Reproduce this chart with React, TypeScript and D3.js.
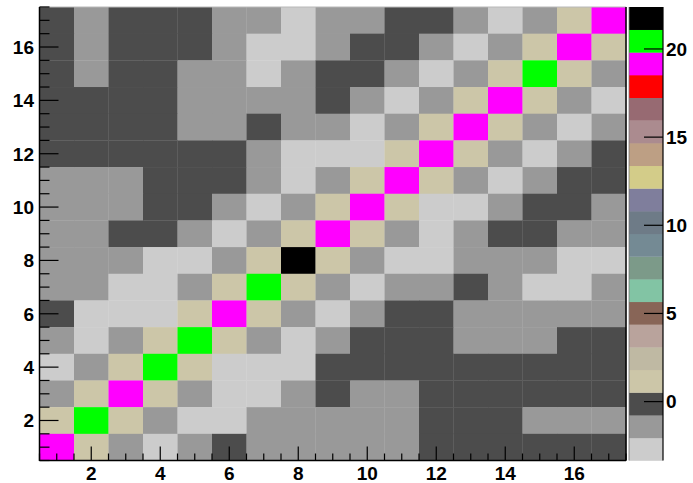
import * as d3 from "d3";

// bins on both axes
const xBins = d3.range(1, 18);
const yBinsTopDown = d3.range(17, 0, -1);

// cell contents, one row per y bin, from y = 17 (top) down to y = 1
const zRows = [
  [-0.1, -1.4, -0.1, -0.1, -0.1, -1.4, -1.4, -2.7, -1.4, -1.4, -0.1, -0.1, -1.4, -2.7, -1.4, 1.1, 19.2],
  [-0.1, -1.4, -0.1, -0.1, -0.1, -1.4, -2.7, -2.7, -1.4, -0.1, -0.1, -1.4, -2.7, -1.4, 1.1, 19.2, 1.1],
  [-0.1, -1.4, -0.1, -0.1, -1.4, -1.4, -2.7, -1.4, -0.1, -0.1, -1.4, -2.7, -1.4, 1.1, 20.5, 1.1, -1.4],
  [-0.1, -0.1, -0.1, -0.1, -1.4, -1.4, -1.4, -1.4, -0.1, -1.4, -2.7, -1.4, 1.1, 19.2, 1.1, -1.4, -2.7],
  [-0.1, -0.1, -0.1, -0.1, -1.4, -1.4, -0.1, -1.4, -1.4, -2.7, -1.4, 1.1, 19.2, 1.1, -1.4, -2.7, -1.4],
  [-0.1, -0.1, -0.1, -0.1, -0.1, -0.1, -1.4, -2.7, -2.7, -2.7, 1.1, 19.2, 1.1, -1.4, -2.7, -1.4, -0.1],
  [-1.4, -1.4, -1.4, -0.1, -0.1, -0.1, -1.4, -2.7, -1.4, 1.1, 19.2, 1.1, -1.4, -2.7, -1.4, -0.1, -0.1],
  [-1.4, -1.4, -1.4, -0.1, -0.1, -1.4, -2.7, -1.4, 1.1, 19.2, 1.1, -2.7, -2.7, -1.4, -0.1, -0.1, -1.4],
  [-1.4, -1.4, -0.1, -0.1, -1.4, -2.7, -1.4, 1.1, 19.2, 1.1, -1.4, -2.7, -1.4, -0.1, -0.1, -1.4, -1.4],
  [-1.4, -1.4, -1.4, -2.7, -2.7, -1.4, 1.1, 21.8, 1.1, -1.4, -2.7, -2.7, -1.4, -1.4, -1.4, -2.7, -2.7],
  [-1.4, -1.4, -2.7, -2.7, -1.4, 1.1, 20.5, 1.1, -1.4, -2.7, -1.4, -1.4, -0.1, -1.4, -2.7, -2.7, -1.4],
  [-0.1, -2.7, -2.7, -2.7, 1.1, 19.2, 1.1, -1.4, -2.7, -1.4, -0.1, -0.1, -1.4, -1.4, -1.4, -1.4, -1.4],
  [-1.4, -2.7, -1.4, 1.1, 20.5, 1.1, -1.4, -2.7, -1.4, -0.1, -0.1, -0.1, -1.4, -1.4, -1.4, -0.1, -0.1],
  [-2.7, -1.4, 1.1, 20.5, 1.1, -2.7, -2.7, -2.7, -0.1, -0.1, -0.1, -0.1, -0.1, -0.1, -0.1, -0.1, -0.1],
  [-1.4, 1.1, 19.2, 1.1, -1.4, -2.7, -2.7, -1.4, -0.1, -1.4, -1.4, -0.1, -0.1, -0.1, -0.1, -0.1, -0.1],
  [1.1, 20.5, 1.1, -1.4, -2.7, -2.7, -1.4, -1.4, -1.4, -1.4, -1.4, -0.1, -0.1, -0.1, -1.4, -1.4, -1.4],
  [19.2, 1.1, -1.4, -2.7, -1.4, -0.1, -1.4, -1.4, -1.4, -1.4, -1.4, -0.1, -0.1, -0.1, -0.1, -0.1, -0.1],
];

// z range of the palette
const zRange = [-3.34, 22.38];

// palette, bottom to top
const palette = [
  "#cccccc", "#999999", "#4c4c4c", "#ccc6a8", "#bfb9a3", "#b9a39c", "#886557",
  "#82c4a4", "#7c9a89", "#748a94", "#6e7b87", "#7f7e9c", "#d3cc89", "#bd9f84",
  "#ab8b8f", "#976a72", "#ff0000", "#ff00ff", "#00ff00", "#000000",
];

const W = 693;
const H = 483;
const left = 39.5, right = 626, top = 7, bottom = 460.5;
const barX0 = 629, barX1 = 663;
const font = "'Liberation Sans', Arial, sans-serif";

export default function App() {
  const x = d3.scaleLinear().domain([0.5, 17.5]).range([left, right]);
  const y = d3.scaleLinear().domain([0.5, 17.5]).range([bottom, top]);
  const color = d3.scaleQuantize<string>().domain(zRange).range(palette);
  const zScale = d3.scaleLinear().domain(zRange).range([bottom, top]);

  const cells: { i: number; j: number; v: number }[] = [];
  zRows.forEach((row, r) => {
    row.forEach((v, c) => cells.push({ i: xBins[c], j: yBinsTopDown[r], v }));
  });

  const minor = d3.range(0.5, 17.51, 0.5);
  const majorX = x.ticks(8);
  const majorY = y.ticks(8);
  const step = (zRange[1] - zRange[0]) / palette.length;

  return (
    <svg width={W} height={H} style={{ position: "absolute", left: 0, top: 0, background: "#fff" }}>
      <rect width={W} height={H} fill="#fff" />
      {cells.map((d, k) => (
        <rect
          key={k}
          x={x(d.i - 0.5)}
          y={y(d.j + 0.5)}
          width={x(d.i + 0.5) - x(d.i - 0.5) + 0.3}
          height={y(d.j - 0.5) - y(d.j + 0.5) + 0.3}
          fill={color(d.v)}
        />
      ))}

      {/* frame */}
      <line x1={left} x2={right} y1={top} y2={top} stroke="#b8b8b8" />
      <line x1={right} x2={right} y1={top} y2={bottom} stroke="#000" strokeWidth={1.5} />
      <line x1={left} x2={left} y1={top} y2={bottom + 0.5} stroke="#000" strokeWidth={1.5} />
      <line x1={left} x2={right} y1={bottom} y2={bottom} stroke="#000" strokeWidth={1.5} />

      {/* x axis ticks */}
      {minor.map((t) => {
        const major = majorX.includes(t);
        return (
          <line key={"xt" + t} x1={x(t)} x2={x(t)} y1={bottom} y2={bottom - (major ? 14 : 7)} stroke="#000" strokeWidth={1.2} />
        );
      })}
      {majorX.map((t) => (
        <text key={"xl" + t} x={x(t)} y={480} textAnchor="middle" fontFamily={font} fontWeight="bold" fontSize={19}>
          {t}
        </text>
      ))}

      {/* y axis ticks */}
      {minor.map((t) => {
        const major = majorY.includes(t);
        return (
          <line key={"yt" + t} x1={left} x2={left + (major ? 19 : 10)} y1={y(t)} y2={y(t)} stroke="#000" strokeWidth={1.2} />
        );
      })}
      {majorY.map((t) => (
        <text key={"yl" + t} x={34} y={y(t)} dy="0.36em" textAnchor="end" fontFamily={font} fontWeight="bold" fontSize={19}>
          {t}
        </text>
      ))}

      {/* palette */}
      {palette.map((c, k) => (
        <rect
          key={"p" + k}
          x={barX0}
          y={zScale(zRange[0] + (k + 1) * step)}
          width={barX1 - barX0}
          height={zScale(zRange[0] + k * step) - zScale(zRange[0] + (k + 1) * step) + 0.3}
          fill={c}
        />
      ))}
      <line x1={barX0} x2={barX0} y1={top} y2={bottom} stroke="#777" strokeWidth={0.8} />
      <line x1={barX1} x2={barX1} y1={top} y2={bottom} stroke="#000" strokeWidth={1.2} />
      {zScale.ticks(5).map((t) => (
        <g key={"zt" + t}>
          <line x1={barX1 - 19} x2={barX1} y1={zScale(t)} y2={zScale(t)} stroke="#000" strokeWidth={1.2} />
          <text x={666} y={zScale(t)} dy="0.36em" fontFamily={font} fontWeight="bold" fontSize={19}>
            {t}
          </text>
        </g>
      ))}
    </svg>
  );
}
